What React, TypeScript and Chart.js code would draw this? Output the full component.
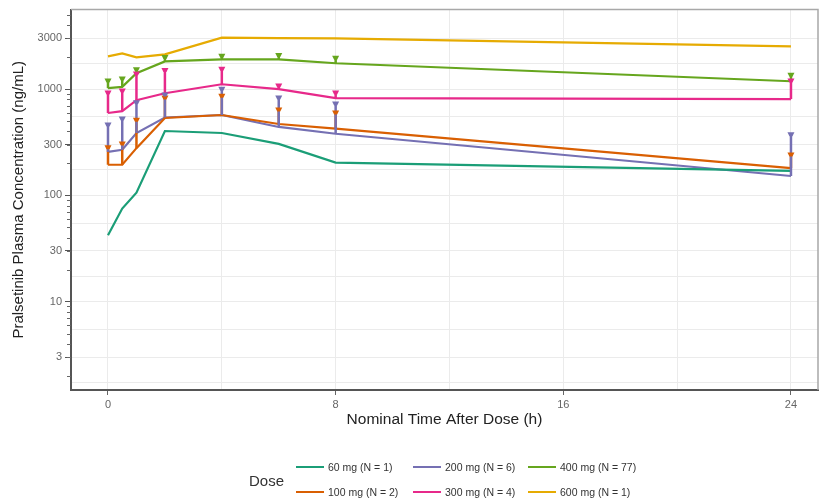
import React, { useEffect, useRef } from "react";
import { Chart, registerables } from "chart.js";

Chart.register(...registerables);

const TIMES = [0, 0.5, 1, 2, 4, 6, 8, 24];
const DOSE_LABELS = ["60 mg (N = 1)", "100 mg (N = 2)", "200 mg (N = 6)", "300 mg (N = 4)", "400 mg (N = 77)", "600 mg (N = 1)"];
const COLORS = ["#1b9e77", "#d95f02", "#7570b3", "#e7298a", "#66a61e", "#e6ab02"];

const MEAN_60 = [42, 75, 106, 403, 386, 305, 203, 170];
const MEAN_100 = [194, 194, 278, 534, 570, 469, 425, 180];
const MEAN_200 = [256, 268, 386, 540, 570, 440, 380, 152];
const MEAN_300 = [595, 620, 785, 914, 1110, 1000, 822, 805];
const MEAN_400 = [1020, 1050, 1410, 1820, 1900, 1900, 1750, 1185];
const MEAN_600 = [2030, 2170, 1990, 2120, 3050, 3020, 3000, 2520];

const UPPER_60: (number | null)[] = [null, null, null, null, null, null, null, null];
const UPPER_100: (number | null)[] = [286, 310, 520, 840, 875, 650, 608, 245];
const UPPER_200: (number | null)[] = [469, 534, 760, 900, 1020, 840, 740, 380];
const UPPER_300: (number | null)[] = [937, 980, 1420, 1530, 1570, 1090, 937, 1216];
const UPPER_400: (number | null)[] = [1216, 1270, 1550, 2030, 2080, 2120, 1990, 1380];
const UPPER_600: (number | null)[] = [null, null, null, null, null, null, null, null];

const MEANS = [MEAN_60, MEAN_100, MEAN_200, MEAN_300, MEAN_400, MEAN_600];
const UPPERS = [UPPER_60, UPPER_100, UPPER_200, UPPER_300, UPPER_400, UPPER_600];

const Y_MAJOR = [3, 10, 30, 100, 300, 1000, 3000];
const Y_MINOR_GRID = [1.732, 5.477, 17.32, 54.77, 173.2, 547.7, 1732];
const X_TICKS = [0, 4, 8, 12, 16, 20, 24];
const X_LABELED = [0, 8, 16, 24];

const FONT = "'Liberation Sans', Arial, sans-serif";

const errorBarPlugin = {
  id: "errorBars",
  afterDatasetsDraw(chart: any) {
    const ctx = chart.ctx;
    const xs = chart.scales.x;
    const ys = chart.scales.y;
    ctx.save();
    UPPERS.forEach((up, di) => {
      ctx.strokeStyle = COLORS[di];
      ctx.lineWidth = 2.5;
      up.forEach((u, i) => {
        if (u == null) return;
        const x = xs.getPixelForValue(TIMES[i]);
        ctx.beginPath();
        ctx.moveTo(x, ys.getPixelForValue(MEANS[di][i]));
        ctx.lineTo(x, ys.getPixelForValue(u));
        ctx.stroke();
      });
    });
    UPPERS.forEach((up, di) => {
      ctx.fillStyle = COLORS[di];
      up.forEach((u, i) => {
        if (u == null) return;
        const x = xs.getPixelForValue(TIMES[i]);
        const y = ys.getPixelForValue(u);
        ctx.beginPath();
        ctx.moveTo(x - 3.5, y - 1.5);
        ctx.lineTo(x + 3.5, y - 1.5);
        ctx.lineTo(x + 1.5, y + 2.5);
        ctx.lineTo(x - 1.5, y + 2.5);
        ctx.closePath();
        ctx.fill();
      });
    });
    ctx.restore();
  },
};

const framePlugin = {
  id: "frame",
  beforeDatasetsDraw(chart: any) {
    const { ctx, chartArea } = chart;
    ctx.save();
    ctx.strokeStyle = "#a8a8a8";
    ctx.lineWidth = 1.5;
    ctx.beginPath();
    ctx.moveTo(chartArea.left, chartArea.top);
    ctx.lineTo(chartArea.right, chartArea.top);
    ctx.lineTo(chartArea.right, chartArea.bottom);
    ctx.stroke();
    const ys = chart.scales.y;
    ctx.strokeStyle = "#666";
    ctx.lineWidth = 1;
    for (let p = 0; p <= 3; p++) {
      for (let k = 2; k <= 9; k++) {
        const v = k * Math.pow(10, p);
        if (v < ys.min || v > ys.max) continue;
        const y = Math.round(ys.getPixelForValue(v)) + 0.5;
        ctx.beginPath();
        ctx.moveTo(chartArea.left - 4, y);
        ctx.lineTo(chartArea.left, y);
        ctx.stroke();
      }
    }
    ctx.restore();
  },
};

export default function App() {
  const ref = useRef<HTMLCanvasElement | null>(null);

  useEffect(() => {
    if (!ref.current) return;
    const chart = new Chart(ref.current, {
      type: "line",
      data: {
        datasets: MEANS.map((m, di) => ({
          label: DOSE_LABELS[di],
          data: m.map((v, i) => ({ x: TIMES[i], y: v })),
          borderColor: COLORS[di],
          backgroundColor: COLORS[di],
          borderWidth: 2.2,
          pointRadius: 0,
          tension: 0,
        })),
      },
      options: {
        responsive: false,
        animation: false,
        layout: { padding: { top: 8, right: 1, bottom: 70, left: 0 } },
        plugins: { legend: { display: false }, tooltip: { enabled: false } },
        scales: {
          x: {
            type: "linear",
            min: -1.3,
            max: 24.95,
            afterBuildTicks: (scale: any) => {
              scale.ticks = X_TICKS.map((v) => ({ value: v }));
            },
            afterFit: (scale: any) => {
              scale.height = 40;
            },
            ticks: {
              autoSkip: false,
              maxRotation: 0,
              padding: 3,
              color: "#666",
              font: { family: FONT, size: 11 },
              callback: (v: any) => (X_LABELED.includes(v) ? String(v) : ""),
            },
            grid: {
              color: "#ebebeb",
              lineWidth: 1,
              tickLength: 5,
              tickColor: (c: any) => (c.tick && X_LABELED.includes(c.tick.value) ? "#666" : "rgba(0,0,0,0)"),
            },
            border: { display: true, color: "#555", width: 2 },
            title: {
              display: true,
              text: "Nominal Time After Dose (h)",
              color: "#222",
              font: { family: FONT, size: 15.5 },
              padding: { top: 2, bottom: 1 },
            },
          },
          y: {
            type: "logarithmic",
            min: 1.47,
            max: 5600,
            afterBuildTicks: (scale: any) => {
              scale.ticks = [...Y_MAJOR, ...Y_MINOR_GRID].sort((a, b) => a - b).map((v) => ({ value: v }));
            },
            afterFit: (scale: any) => {
              scale.width = 71;
            },
            ticks: {
              autoSkip: false,
              padding: 3,
              color: "#666",
              font: { family: FONT, size: 11 },
              callback: (v: any) => (Y_MAJOR.includes(v) ? String(v) : ""),
            },
            grid: {
              color: "#ebebeb",
              lineWidth: 1,
              tickLength: 6,
              tickColor: (c: any) => (c.tick && Y_MAJOR.includes(c.tick.value) ? "#555" : "rgba(0,0,0,0)"),
            },
            border: { display: true, color: "#555", width: 2 },
            title: {
              display: true,
              text: "Pralsetinib Plasma Concentration (ng/mL)",
              color: "#222",
              font: { family: FONT, size: 15 },
              padding: { top: 10, bottom: 0 },
            },
          },
        },
      },
      plugins: [framePlugin, errorBarPlugin],
    } as any);
    return () => chart.destroy();
  }, []);

  const legendPos = [
    { x: 296, y: 467 },
    { x: 296, y: 492 },
    { x: 413, y: 467 },
    { x: 413, y: 492 },
    { x: 528, y: 467 },
    { x: 528, y: 492 },
  ];

  return (
    <div style={{ position: "fixed", left: 0, top: 0, width: 819, height: 500, background: "#fff", fontFamily: FONT }}>
      <canvas ref={ref} width={819} height={500} style={{ position: "absolute", left: 0, top: 0 }} />
      <div style={{ position: "absolute", left: 249, top: 471, fontSize: 15, color: "#333", lineHeight: "20px" }}>Dose</div>
      {DOSE_LABELS.map((lab, i) => (
        <div key={lab} style={{ position: "absolute", left: legendPos[i].x, top: legendPos[i].y - 7, height: 14, display: "flex", alignItems: "center", whiteSpace: "nowrap" }}>
          <span style={{ display: "inline-block", width: 28, height: 2, background: COLORS[i], marginRight: 4 }} />
          <span style={{ fontSize: 10.5, color: "#333" }}>{lab}</span>
        </div>
      ))}
    </div>
  );
}
